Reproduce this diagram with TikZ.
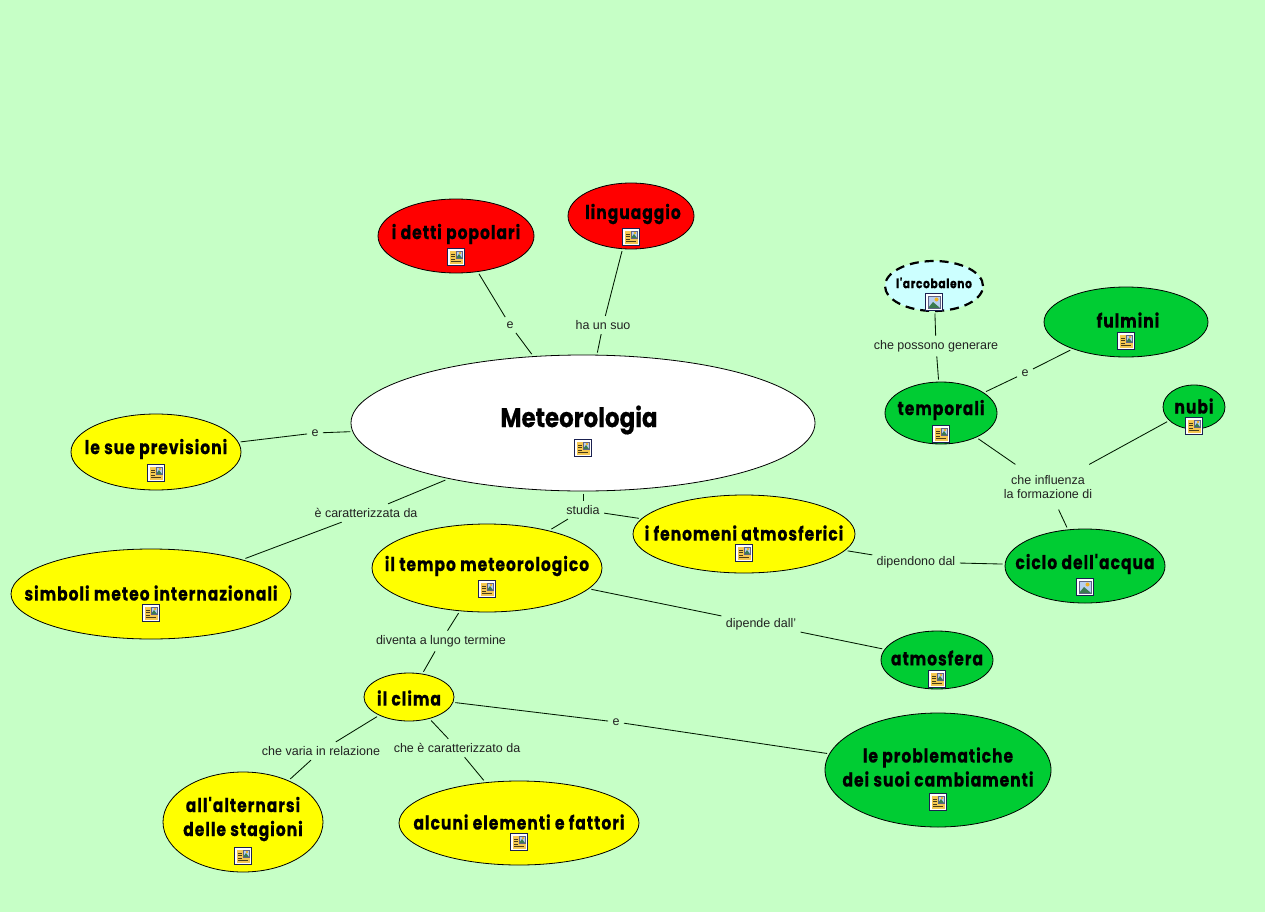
\documentclass[tikz,border=0pt]{standalone}
\usepackage{fontspec}
\usetikzlibrary{shapes.geometric}
\setmainfont{Liberation Sans}
\newfontfamily\titlefont{Poppins}[FakeStretch=0.82,LetterSpace=5,FakeBold=0.4]
\newfontfamily\metfont{Poppins}[FakeStretch=0.85,FakeBold=0.4]
\definecolor{bg}{HTML}{C6FFC6}
\definecolor{cgreen}{HTML}{00CC33}
\definecolor{cyell}{HTML}{FFFF00}
\definecolor{cred}{HTML}{FF0000}
\definecolor{ccyan}{HTML}{CCFFFF}
\definecolor{iconnavy}{HTML}{1A2050}
\definecolor{icondoc}{HTML}{F5C850}
\definecolor{iconsky}{HTML}{B8D0F0}
\definecolor{iconhill}{HTML}{3A7A50}
\definecolor{iconsun}{HTML}{F0B020}
\definecolor{lbl}{HTML}{222222}
\tikzset{
  x=1pt,y=-1pt,
  conc/.style={ellipse,draw=black,line width=.8pt,inner sep=0pt,outer sep=2.5pt},
  dashconc/.style={line width=2.2pt,dash pattern=on 9pt off 6pt},
  linkl/.style={font=\fontsize{12.5}{14}\selectfont,text=lbl,align=center,inner sep=4.5pt,outer sep=0pt,yshift=-1pt},
  conn/.style={draw=black!90!green,line width=.85pt},
  ctext/.style={font=\titlefont\bfseries\fontsize{#1}{24}\selectfont,text=black,align=center},
  pics/docicon/.style={code={
    \draw[iconnavy,fill=white,line width=1.2pt] (-8.5,-8.5) rectangle (8.5,8.5);
    \fill[icondoc] (-6.5,-6.5) rectangle (6.5,6.5);
    \fill[iconsky] (0,-6) rectangle (6,1);
    \fill[iconhill] (0,1)--(3,-3)--(6,1)--cycle;
    \fill[iconsun] (4,-4) circle (1.3);
    \draw[iconnavy!70,line width=.5pt] (0,-6) rectangle (6,1);
    \draw[black!70!icondoc,line width=.8pt] (-5,-3)--(-1,-3) (-5,-.5)--(-1,-.5) (-5,2)--(-1,2) (-5,4.5)--(5,4.5);
  }},
  pics/imgicon/.style={code={
    \draw[iconnavy,fill=white,line width=1.2pt] (-8.5,-8.5) rectangle (8.5,8.5);
    \fill[iconsky] (-6,-6) rectangle (6,6);
    \fill[iconhill] (-6,6)--(-1,0)--(6,6)--cycle;
    \fill[iconsun] (2.5,-2.5) circle (2);
    \draw[iconnavy!70,line width=.5pt] (-6,-6) rectangle (6,6);
  }},
}
\newcommand{\conc}[9][]{% options, name, cx, cy, rx, ry, colour, text size, text offset
  \node[conc,fill=#7,minimum width=#5*2pt,minimum height=#6*2pt,#1] (#2) at (#3,#4) {};
  \node[ctext=#8] (#2t) at (#3+0,#4+#9) }
\begin{document}
\begin{tikzpicture}
\path[fill=bg] (0,0) rectangle (1265,912);
\useasboundingbox (0,0) rectangle (1265,912);
% concepts
\conc[]{met}{583}{423}{232}{68}{white}{27}{-3}[xshift=-4pt]{{\metfont\bfseries Meteorologia}};
\conc{det}{456}{236}{78}{37}{cred}{19}{-2}{i detti popolari};
\conc{lin}{631}{216}{63}{33}{cred}{19}{-2}[xshift=2pt]{linguaggio};
\conc[dashconc]{arc}{934}{286}{49}{25}{ccyan}{13}{-3}{l'arcobaleno};
\conc{ful}{1126}{322}{82}{35}{cgreen}{19}{-2}[xshift=2pt]{fulmini};
\conc{tem}{941}{413}{56}{31}{cgreen}{19}{-3}{temporali};
\conc{nub}{1194}{407}{31}{22}{cgreen}{19}{-1}{nubi};
\conc{pre}{156}{452}{85}{38}{cyell}{19}{-3}{le sue previsioni};
\conc{sim}{151}{594}{140}{45}{cyell}{19}{-1}{simboli meteo internazionali};
\conc{tmp}{487}{568}{115}{44}{cyell}{19}{-2}{il tempo meteorologico};
\conc{fen}{744}{534}{111}{39}{cyell}{19}{-1}{i fenomeni atmosferici};
\conc{cic}{1085}{566}{80}{37}{cgreen}{19}{-2}{ciclo dell'acqua};
\conc{atm}{937}{660}{56}{29}{cgreen}{19}{-2}{atmosfera};
\conc{cli}{409}{697}{45}{24}{cyell}{19}{1}{il clima};
\conc{pro}{938}{770}{113}{57}{cgreen}{19}{-3}{le problematiche\\dei suoi cambiamenti};
\conc{alt}{243}{822}{80}{50}{cyell}{19}{-3}{all'alternarsi\\delle stagioni};
\conc{alc}{519}{823}{120}{42}{cyell}{19}{-1}{alcuni elementi e fattori};
% icons
\pic at (583,448) {docicon};
\pic at (456,257) {docicon};
\pic at (631,237) {docicon};
\pic at (934,302) {imgicon};
\pic at (1126,341) {docicon};
\pic at (941,434) {docicon};
\pic at (1194,426) {docicon};
\pic at (156,473) {docicon};
\pic at (151,613) {docicon};
\pic at (487,589) {docicon};
\pic at (744,553) {docicon};
\pic at (1085,587) {imgicon};
\pic at (937,679) {docicon};
\pic at (938,802) {docicon};
\pic at (243,856) {docicon};
\pic at (519,842) {docicon};
% link labels
\node[linkl] (l1) at (510,324) {e};
\node[linkl] (l2) at (603,324) {ha un suo};
\node[linkl] (l3) at (936,345) {che possono generare};
\node[linkl] (l4) at (1025,372) {e};
\node[linkl,inner ysep=11pt] (l5) at (1048,486) {che influenza\\la formazione di};
\node[linkl] (l6) at (315,432) {e};
\node[linkl] (l7) at (366,512) {è caratterizzata da};
\node[linkl] (l8) at (583,509) {studia};
\node[linkl] (l9) at (916,561) {dipendono dal};
\node[linkl] (l10) at (761,623) {dipende dall'};
\node[linkl] (l11) at (441,640) {diventa a lungo termine};
\node[linkl] (l12) at (321,750) {che varia in relazione};
\node[linkl] (l13) at (457,747) {che è caratterizzato da};
\node[linkl] (l14) at (616,721) {e};
% connectors
\draw[conn] (det) -- (l1);
\draw[conn] (l1) -- (met);
\draw[conn] (lin) -- (l2);
\draw[conn] (l2) -- (met);
\draw[conn] (arc) -- (l3);
\draw[conn] (l3) -- (tem);
\draw[conn] (tem) -- (l4);
\draw[conn] (l4) -- (ful);
\draw[conn] (tem) -- (l5);
\draw[conn] (nub) -- (l5);
\draw[conn] (l5) -- (cic);
\draw[conn] (pre) -- (l6);
\draw[conn] (l6) -- (met);
\draw[conn] (met) -- (l7);
\draw[conn] (l7) -- (sim);
\draw[conn] (met) -- (l8);
\draw[conn] (l8) -- (tmp);
\draw[conn] (l8) -- (fen);
\draw[conn] (fen) -- (l9);
\draw[conn] (l9) -- (cic);
\draw[conn] (tmp) -- (l10);
\draw[conn] (l10) -- (atm);
\draw[conn] (tmp) -- (l11);
\draw[conn] (l11) -- (cli);
\draw[conn] (cli) -- (l12);
\draw[conn] (l12) -- (alt);
\draw[conn] (cli) -- (l13);
\draw[conn] (l13) -- (alc);
\draw[conn] (cli) -- (l14);
\draw[conn] (l14) -- (pro);
\end{tikzpicture}
\end{document}
